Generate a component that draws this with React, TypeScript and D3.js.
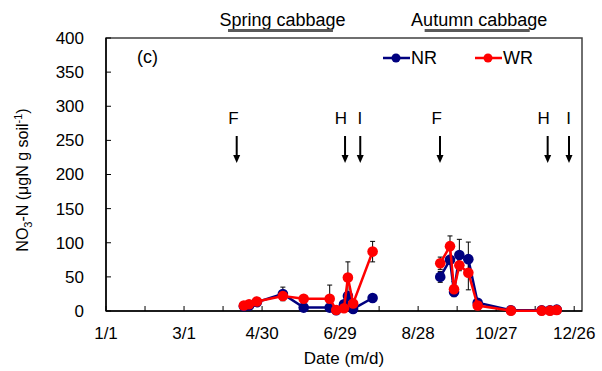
import React from "react";
import * as d3 from "d3";

// Day of year (2016, 1/1 = 0)
const sampleDays = [106, 110, 116, 136, 152, 172, 177, 183, 186, 190, 205, 257, 264.5, 267.6, 271.7, 278.6, 285.8, 311.4, 335, 341.4, 346.6];
const sampleSeason = [0, 0, 0, 0, 0, 0, 0, 0, 0, 0, 0, 1, 1, 1, 1, 1, 1, 1, 1, 1, 1];
const nrValues = [7, 8, 13, 25, 5, 5, 1, 10, 22, 3, 19, 50, 75, 28, 82, 76, 12, 1, 1, 1, 2];
const nrErrors = [0, 0, 0, 10, 0, 0, 0, 0, 0, 0, 0, 8, 0, 0, 23, 25, 4, 0, 0, 0, 0];
const wrValues = [8, 10, 14, 22, 18, 18, 1.5, 4, 49, 11, 87, 70, 95, 32, 67, 56, 8, 0.5, 0.5, 0.5, 1.5];
const wrErrors = [0, 0, 0, 3, 0, 20, 0, 0, 23, 0, 15, 9, 15, 11, 0, 25, 0, 0, 0, 0, 0];

const xTickDays = [0, 30, 60, 90, 120, 150, 180, 210, 240, 270, 300, 330, 360];
const xLabelDays = [0, 60, 120, 180, 240, 300, 360];
const xLabels = ["1/1", "3/1", "4/30", "6/29", "8/28", "10/27", "12/26"];
const yTicks = [0, 50, 100, 150, 200, 250, 300, 350, 400];

const eventDays = [100.5, 183.8, 195.5, 256.8, 339.6, 356];
const eventLabels = ["F", "H", "I", "F", "H", "I"];

const seasonNames = ["Spring cabbage", "Autumn cabbage"];
const seasonStart = [93.8, 245];
const seasonEnd = [174.5, 325.8];

const NR_COLOR = "#00007F";
const WR_COLOR = "#FF0000";
const FONT = "'Liberation Sans', Arial, sans-serif";

export default function App() {
  const W = 602, H = 371;
  const left = 106, right = 582, top = 38, bottom = 311;
  const x = d3.scaleLinear().domain([0, 366]).range([left, right]);
  const y = d3.scaleLinear().domain([0, 400]).range([bottom, top]);

  const line = d3
    .line<[number, number]>()
    .x((p) => x(p[0]))
    .y((p) => y(p[1]));

  const series = [
    { name: "NR", values: nrValues, errors: nrErrors, color: NR_COLOR },
    { name: "WR", values: wrValues, errors: wrErrors, color: WR_COLOR },
  ];

  const segments = (vals: number[]) =>
    [0, 1].map((s) =>
      vals
        .map((v, i) => [sampleDays[i], v, sampleSeason[i]] as [number, number, number])
        .filter((p) => p[2] === s)
        .map((p) => [p[0], p[1]] as [number, number])
    );

  const legendX = [383, 475];

  return (
    <svg width={W} height={H} style={{ position: "absolute", left: 0, top: 0 }} fontFamily={FONT}>
      <rect x={0} y={0} width={W} height={H} fill="#fff" />
      {/* season labels */}
      {seasonNames.map((s, i) => {
        const xs = x(seasonStart[i]);
        const xe = x(seasonEnd[i]);
        return (
          <g key={s}>
            <text x={(xs + xe) / 2 + 2} y={26} fontSize={18} textAnchor="middle" fill="#000">
              {s}
            </text>
            <line x1={xs} x2={xe} y1={30.5} y2={30.5} stroke="#595959" strokeWidth={3} />
          </g>
        );
      })}
      {/* plot frame */}
      <rect x={left} y={top} width={right - left} height={bottom - top} fill="none" stroke="#404040" strokeWidth={1.5} />
      <line x1={left} x2={left} y1={top} y2={bottom} stroke="#000" strokeWidth={1.5} />
      <line x1={left} x2={right} y1={bottom} y2={bottom} stroke="#000" strokeWidth={1.5} />
      {/* y ticks */}
      {yTicks.map((t) => (
        <g key={"y" + t}>
          <line x1={left} x2={left + 5} y1={y(t)} y2={y(t)} stroke="#000" strokeWidth={1} />
          <text x={84} y={y(t)} dy="0.35em" fontSize={17} textAnchor="end" fill="#000">
            {t}
          </text>
        </g>
      ))}
      {/* x ticks */}
      {xTickDays.map((t) => (
        <line key={"x" + t} x1={x(t)} x2={x(t)} y1={bottom} y2={bottom - 5} stroke="#000" strokeWidth={1} />
      ))}
      {xLabelDays.map((t, i) => (
        <text key={"xl" + t} x={x(t)} y={339} fontSize={17} textAnchor="middle" fill="#000">
          {xLabels[i]}
        </text>
      ))}
      <text x={(left + right) / 2} y={364} fontSize={17} textAnchor="middle" fill="#000">
        Date (m/d)
      </text>
      <text transform="translate(28,180) rotate(-90)" fontSize={16} textAnchor="middle" fill="#000">
        <tspan>NO</tspan>
        <tspan dy={4} fontSize={11}>3</tspan>
        <tspan dy={-4}>-N (μgN g soil</tspan>
        <tspan dy={-6} fontSize={11}>-1</tspan>
        <tspan dy={6}>)</tspan>
      </text>
      <text x={137} y={63} fontSize={18} fill="#000">
        (c)
      </text>
      {/* events */}
      {eventDays.map((d, i) => {
        const ax = x(d);
        return (
          <g key={"e" + i}>
            <text x={ax + 2} y={124} fontSize={17} textAnchor="end" fill="#000">
              {eventLabels[i]}
            </text>
            <line x1={ax} x2={ax} y1={136} y2={156} stroke="#000" strokeWidth={2} />
            <path d={`M${ax - 3.5},${155} L${ax + 3.5},${155} L${ax},${163} Z`} fill="#000" />
          </g>
        );
      })}
      {/* error bars */}
      {series.map((s) =>
        s.values.map((v, i) => {
          const e = s.errors[i];
          if (!e) return null;
          const cx = x(sampleDays[i]);
          const y1 = y(v + e);
          const y2 = y(Math.max(0, v - e));
          return (
            <g key={s.name + "err" + i} stroke="#000" strokeWidth={1}>
              <line x1={cx} x2={cx} y1={y1} y2={y2} />
              <line x1={cx - 2.5} x2={cx + 2.5} y1={y1} y2={y1} />
              <line x1={cx - 2.5} x2={cx + 2.5} y1={y2} y2={y2} />
            </g>
          );
        })
      )}
      {/* series */}
      {series.map((s) => (
        <g key={s.name}>
          {segments(s.values).map((seg, k) => (
            <path key={k} d={line(seg) || ""} fill="none" stroke={s.color} strokeWidth={2.5} />
          ))}
          {s.values.map((v, i) => (
            <circle key={i} cx={x(sampleDays[i])} cy={y(v)} r={5.3} fill={s.color} />
          ))}
        </g>
      ))}
      {/* legend */}
      {series.map((s, i) => (
        <g key={"lg" + s.name}>
          <line x1={legendX[i]} x2={legendX[i] + 27} y1={58} y2={58} stroke={s.color} strokeWidth={2.5} />
          <circle cx={legendX[i] + 13} cy={58} r={4.5} fill={s.color} />
          <text x={legendX[i] + 28} y={64} fontSize={18} fill="#000">
            {s.name}
          </text>
        </g>
      ))}
    </svg>
  );
}
